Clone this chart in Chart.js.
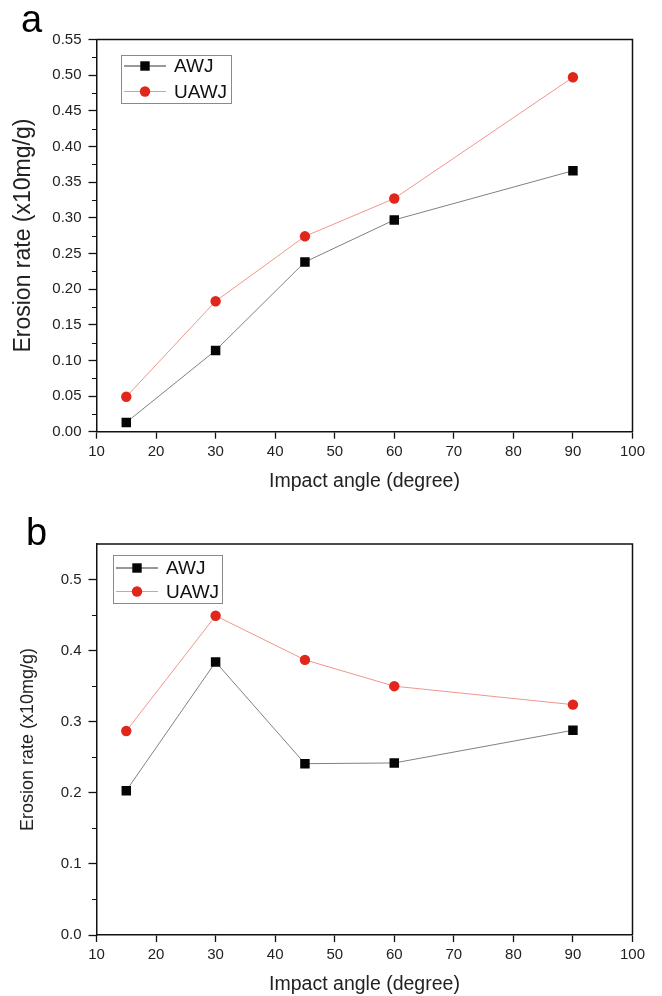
<!DOCTYPE html>
<html>
<head>
<meta charset="utf-8">
<script src="https://cdn.jsdelivr.net/npm/chart.js@4.4.1/dist/chart.umd.min.js"></script>
<style>
  html, body { margin: 0; padding: 0; background: #fff; }
  .panel { position: relative; width: 662px; height: 498px; }
</style>
</head>
<body>
<div class="panel"><canvas id="chartA" width="662" height="498"></canvas></div>
<div class="panel"><canvas id="chartB" width="662" height="498"></canvas></div>
<script>
// impact angles (degree)
const angles = [15, 30, 45, 60, 90];

// panel a erosion rates (x10mg/g)
const awjA = [0.013, 0.114, 0.238, 0.297, 0.366];
const uawjA = [0.049, 0.183, 0.274, 0.327, 0.497];

// panel b erosion rates (x10mg/g)
const awjB = [0.203, 0.384, 0.241, 0.242, 0.288];
const uawjB = [0.287, 0.449, 0.387, 0.350, 0.324];

// axis ranges / tick steps
const xRange = [10, 100];
const xStep = 10;
const yRange = [0, 0.55];
const yStepA = 0.05;
const yStepB = 0.1;

const seriesNames = ['AWJ', 'UAWJ'];
const FONT = "'Liberation Sans', Arial, sans-serif";

// frame, minor ticks, panel letter and the boxed legend
const decorPlugin = {
  id: 'decor',
  afterDraw(chart, args, opts) {
    const ctx = chart.ctx;
    const area = chart.chartArea;
    const y = chart.scales.y;
    ctx.save();

    // top and right edges of the frame
    ctx.strokeStyle = '#111';
    ctx.lineWidth = 1.5;
    ctx.beginPath();
    ctx.moveTo(area.left, area.top);
    ctx.lineTo(area.right, area.top);
    ctx.lineTo(area.right, area.bottom);
    ctx.stroke();

    // minor ticks halfway between the major ones
    const minor = opts.step / 2;
    ctx.lineWidth = 1.2;
    ctx.beginPath();
    for (let i = 1; i * minor < y.max - 1e-9; i++) {
      if (i % 2 === 0) continue;
      const py = Math.round(y.getPixelForValue(i * minor)) + 0.5;
      ctx.moveTo(area.left - 4.5, py);
      ctx.lineTo(area.left, py);
    }
    ctx.stroke();

    // panel letter
    ctx.fillStyle = '#000';
    ctx.font = '38px ' + FONT;
    ctx.textBaseline = 'alphabetic';
    ctx.fillText(opts.letter, opts.letterX, opts.letterY);

    // legend box
    const lg = opts.legend;
    ctx.fillStyle = '#fff';
    ctx.fillRect(lg.x, lg.y, lg.w, lg.h);
    ctx.strokeStyle = '#8a8a8a';
    ctx.lineWidth = 1;
    ctx.strokeRect(lg.x + 0.5, lg.y + 0.5, lg.w, lg.h);

    chart.data.datasets.forEach((ds, i) => {
      const ry = lg.y + lg.row0 + i * lg.rowGap;
      const x0 = lg.x + 3;
      const x1 = x0 + 42;
      ctx.strokeStyle = ds.legendLine;
      ctx.lineWidth = 1;
      ctx.beginPath();
      ctx.moveTo(x0, ry);
      ctx.lineTo(x1, ry);
      ctx.stroke();

      const cx = (x0 + x1) / 2;
      ctx.fillStyle = ds.pointBackgroundColor;
      if (ds.pointStyle === 'rect') {
        ctx.fillRect(cx - 4.7, ry - 4.7, 9.4, 9.4);
      } else {
        ctx.beginPath();
        ctx.arc(cx, ry, 5.2, 0, Math.PI * 2);
        ctx.fill();
      }

      ctx.fillStyle = '#111';
      ctx.font = '19px ' + FONT;
      ctx.textBaseline = 'middle';
      ctx.fillText(ds.label, x1 + 8, ry + 1);
    });

    ctx.restore();
  }
};

function makeDatasets(awj, uawj) {
  return [
    {
      label: seriesNames[0],
      data: angles.map((a, i) => ({ x: a, y: awj[i] })),
      borderColor: '#808080',
      legendLine: '#333',
      borderWidth: 1,
      pointStyle: 'rect',
      pointRadius: 6.7,
      pointBackgroundColor: '#050505',
      pointBorderColor: '#050505',
      pointBorderWidth: 0,
      tension: 0
    },
    {
      label: seriesNames[1],
      data: angles.map((a, i) => ({ x: a, y: uawj[i] })),
      borderColor: '#f0968c',
      legendLine: '#f0968c',
      borderWidth: 1,
      pointStyle: 'circle',
      pointRadius: 5.2,
      pointBackgroundColor: '#e1261b',
      pointBorderColor: '#e1261b',
      pointBorderWidth: 0,
      tension: 0
    }
  ];
}

function makeChart(canvasId, awj, uawj, p) {
  return new Chart(document.getElementById(canvasId), {
    type: 'line',
    data: { datasets: makeDatasets(awj, uawj) },
    options: {
      responsive: false,
      animation: false,
      events: [],
      layout: { padding: { top: p.top, right: 29.5, left: 0, bottom: 0 } },
      plugins: {
        legend: { display: false },
        tooltip: { enabled: false },
        decor: {
          step: p.step,
          letter: p.letter,
          letterX: p.letterX,
          letterY: p.letterY,
          legend: p.legend
        }
      },
      scales: {
        x: {
          type: 'linear',
          min: xRange[0],
          max: xRange[1],
          afterFit: s => { s.height = p.xHeight; },
          border: { color: '#111', width: 1.5 },
          grid: { drawOnChartArea: false, color: '#111', tickLength: 7, tickWidth: 1.3 },
          ticks: { stepSize: xStep, padding: 4, color: '#222', font: { family: FONT, size: 15 } },
          title: {
            display: true,
            text: 'Impact angle (degree)',
            color: '#222',
            font: { family: FONT, size: 19.5 },
            padding: { top: 0, bottom: p.xTitlePad }
          }
        },
        y: {
          min: yRange[0],
          max: yRange[1],
          afterFit: s => { s.width = 96.5; },
          border: { color: '#111', width: 1.5 },
          grid: { drawOnChartArea: false, color: '#111', tickLength: 8, tickWidth: 1.3 },
          ticks: {
            stepSize: p.step,
            includeBounds: false,
            padding: 7,
            color: '#222',
            font: { family: FONT, size: 15 },
            callback: v => v.toFixed(p.digits)
          },
          title: {
            display: true,
            text: 'Erosion rate (x10mg/g)',
            color: '#222',
            font: { family: FONT, size: p.yTitleSize },
            padding: { top: p.yTitlePad, bottom: 0 }
          }
        }
      }
    },
    plugins: [decorPlugin]
  });
}

makeChart('chartA', awjA, uawjA, {
  top: 39.5, xHeight: 66.3, xTitlePad: 4.3,
  step: yStepA, digits: 2,
  yTitleSize: 23, yTitlePad: 9.7,
  letter: 'a', letterX: 21, letterY: 32,
  legend: { x: 121, y: 55, w: 110, h: 48, row0: 11, rowGap: 25.5 }
});

makeChart('chartB', awjB, uawjB, {
  top: 46, xHeight: 61, xTitlePad: 0,
  step: yStepB, digits: 1,
  yTitleSize: 18, yTitlePad: 17,
  letter: 'b', letterX: 26, letterY: 47,
  legend: { x: 113, y: 57, w: 109, h: 48, row0: 13, rowGap: 23.5 }
});
</script>
</body>
</html>
